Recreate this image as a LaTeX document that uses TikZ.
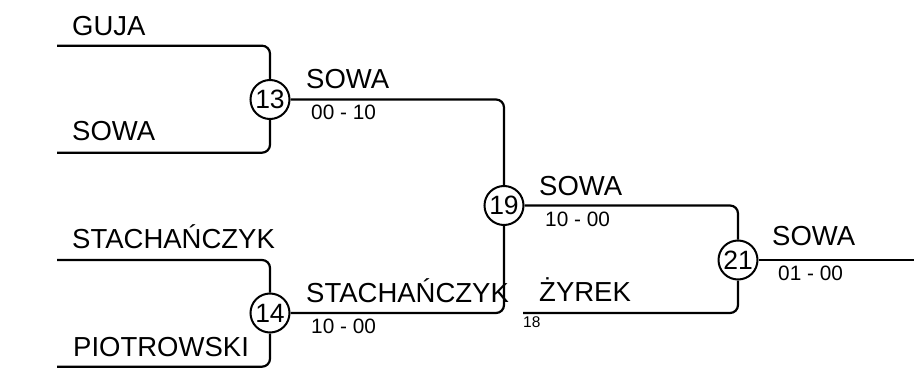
\documentclass[tikz,border=0pt]{standalone}
\usepackage{fontspec}
\setmainfont{Liberation Sans}
\begin{document}
\begin{tikzpicture}[x=1pt,y=-1pt,
  wire/.style={line width=2.2pt,rounded corners=8pt},
  matchc/.style={circle,draw,line width=2pt,fill=white,minimum size=39pt,inner sep=0pt,font=\fontsize{26.5}{26.5}\selectfont},
  pname/.style={anchor=base west,inner sep=0pt,font=\fontsize{27.5}{27.5}\selectfont},
  pscore/.style={anchor=base west,inner sep=0pt,font=\fontsize{20.8}{20.8}\selectfont},
  pseed/.style={anchor=base west,inner sep=0pt,font=\fontsize{15.5}{15.5}\selectfont}]
\useasboundingbox (0,0) rectangle (914,372);
% match circles
\node[matchc] (m13) at (270,99.5) {13};
\node[matchc] (m14) at (270,313) {14};
\node[matchc] (m19) at (504,205.5) {19};
\node[matchc] (m21) at (738,260) {21};
% free ends
\coordinate (pGuja) at (57,45.7);
\coordinate (pSowa) at (57,152.7);
\coordinate (pStach) at (57,260);
\coordinate (pPiot) at (57,366.7);
\coordinate (pZyrek) at (523,313);
\coordinate (pEnd) at (914,260);
% connectors
\draw[wire] (pGuja) -| (m13);
\draw[wire] (pSowa) -| (m13);
\draw[wire] (pStach) -| (m14);
\draw[wire] (pPiot) -| (m14);
\draw[wire] (m13) -| (m19);
\draw[wire] (m14) -| (m19);
\draw[wire] (m19) -| (m21);
\draw[wire] (pZyrek) -| (m21);
\draw[wire] (m21) -- (pEnd);
% labels
\node[pname] (tGuja) at (72,35) {GUJA};
\node[pname] (tSowa) at (72,140) {SOWA};
\node[pname] (tStach) at (72,248) {STACHAŃCZYK};
\node[pname] (tPiot) at (73,356.7) {PIOTROWSKI};
\node[pname] (w13) at (306,88.3) {SOWA};
\node[pscore] (s13) at (311,119.3) {00 - 10};
\node[pname] (w14) at (306,302.7) {STACHAŃCZYK};
\node[pscore] (s14) at (311,333) {10 - 00};
\node[pname] (w19) at (539,195) {SOWA};
\node[pscore] (s19) at (545,226) {10 - 00};
\node[pname] (tZyrek) at (539,301.7) {ŻYREK};
\node[pseed] (sZyrek) at (523,327.7) {18};
\node[pname] (w21) at (772,245.7) {SOWA};
\node[pscore] (s21) at (778,280) {01 - 00};
\end{tikzpicture}
\end{document}
